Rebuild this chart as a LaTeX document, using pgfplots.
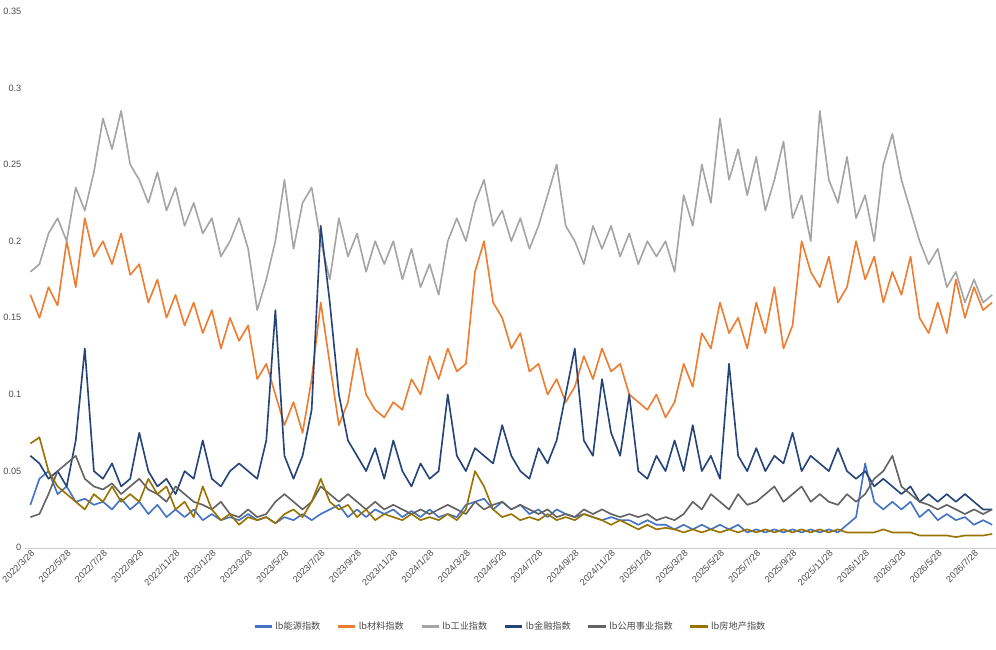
\documentclass[border=0pt]{standalone}
\usepackage{pgfplots}
\pgfplotsset{compat=1.18}
\usepackage{pgfplotstable}
\usepackage{fontspec}
\setmainfont{Liberation Sans}
\newfontfamily\cjk{Noto Sans CJK SC}
\definecolor{cEn}{HTML}{4472C4}
\definecolor{cMa}{HTML}{ED7D31}
\definecolor{cIn}{HTML}{A5A5A5}
\definecolor{cFi}{HTML}{264478}
\definecolor{cUt}{HTML}{636363}
\definecolor{cRe}{HTML}{997300}
\pgfplotstableread{
x en ma in fi ut re
0 .028 .165 .180 .060 .020 .068
0.5 .045 .150 .185 .055 .022 .072
1 .050 .170 .205 .045 .035 .050
1.5 .035 .158 .215 .050 .050 .040
2 .040 .200 .200 .040 .055 .035
2.5 .030 .170 .235 .070 .060 .030
3 .032 .215 .220 .130 .045 .025
3.5 .028 .190 .245 .050 .040 .035
4 .030 .200 .280 .045 .038 .030
4.5 .025 .185 .260 .055 .042 .040
5 .032 .205 .285 .040 .035 .030
5.5 .025 .178 .250 .045 .040 .035
6 .030 .185 .240 .075 .045 .030
6.5 .022 .160 .225 .050 .038 .045
7 .028 .175 .245 .040 .035 .035
7.5 .020 .150 .220 .045 .030 .040
8 .025 .165 .235 .035 .040 .025
8.5 .020 .145 .210 .050 .035 .030
9 .025 .160 .225 .045 .030 .020
9.5 .018 .140 .205 .070 .028 .040
10 .022 .155 .215 .045 .025 .025
10.5 .018 .130 .190 .040 .030 .018
11 .020 .150 .200 .050 .022 .022
11.5 .018 .135 .215 .055 .020 .015
12 .022 .145 .195 .050 .025 .020
12.5 .018 .110 .155 .045 .020 .018
13 .020 .120 .175 .070 .022 .020
13.5 .016 .100 .200 .155 .030 .016
14 .020 .080 .240 .060 .035 .022
14.5 .018 .095 .195 .045 .030 .025
15 .022 .075 .225 .060 .025 .020
15.5 .018 .110 .235 .090 .030 .030
16 .022 .160 .200 .210 .040 .045
16.5 .025 .120 .175 .160 .035 .030
17 .028 .080 .215 .100 .030 .025
17.5 .020 .095 .190 .070 .035 .028
18 .025 .130 .205 .060 .030 .020
18.5 .020 .100 .180 .050 .025 .025
19 .025 .090 .200 .065 .030 .018
19.5 .022 .085 .185 .045 .025 .022
20 .025 .095 .200 .070 .028 .020
20.5 .020 .090 .175 .050 .025 .018
21 .024 .110 .195 .040 .022 .022
21.5 .020 .100 .170 .055 .025 .018
22 .025 .125 .185 .045 .022 .020
22.5 .020 .110 .165 .050 .025 .018
23 .022 .130 .200 .100 .028 .022
23.5 .020 .115 .215 .060 .025 .018
24 .028 .120 .200 .050 .022 .025
24.5 .030 .180 .225 .065 .030 .050
25 .032 .200 .240 .060 .025 .040
25.5 .025 .160 .210 .055 .028 .025
26 .030 .150 .220 .080 .030 .020
26.5 .025 .130 .200 .060 .025 .022
27 .028 .140 .215 .050 .028 .018
27.5 .022 .115 .195 .045 .025 .020
28 .025 .120 .210 .065 .022 .018
28.5 .020 .100 .230 .055 .025 .022
29 .025 .110 .250 .070 .020 .018
29.5 .022 .095 .210 .100 .022 .020
30 .020 .105 .200 .130 .020 .018
30.5 .022 .125 .185 .070 .025 .022
31 .020 .110 .210 .060 .022 .020
31.5 .018 .130 .195 .110 .025 .018
32 .020 .115 .210 .075 .022 .015
32.5 .018 .120 .190 .060 .020 .018
33 .018 .100 .205 .100 .022 .015
33.5 .015 .095 .185 .050 .020 .012
34 .018 .090 .200 .045 .022 .015
34.5 .015 .100 .190 .060 .018 .012
35 .015 .085 .200 .050 .020 .013
35.5 .012 .095 .180 .070 .018 .012
36 .015 .120 .230 .050 .022 .010
36.5 .012 .105 .210 .080 .030 .012
37 .015 .140 .250 .050 .025 .010
37.5 .012 .130 .225 .060 .035 .012
38 .015 .160 .280 .045 .030 .010
38.5 .012 .140 .240 .120 .025 .012
39 .015 .150 .260 .060 .035 .010
39.5 .010 .130 .230 .050 .028 .012
40 .012 .160 .255 .065 .030 .010
40.5 .010 .140 .220 .050 .035 .012
41 .012 .170 .240 .060 .040 .010
41.5 .010 .130 .265 .055 .030 .012
42 .012 .145 .215 .075 .035 .010
42.5 .010 .200 .230 .050 .040 .012
43 .012 .180 .200 .060 .030 .010
43.5 .010 .170 .285 .055 .035 .012
44 .012 .190 .240 .050 .030 .010
44.5 .010 .160 .225 .065 .028 .012
45 .015 .170 .255 .050 .035 .010
45.5 .020 .200 .215 .045 .030 .010
46 .055 .175 .230 .050 .035 .010
46.5 .030 .190 .200 .040 .045 .010
47 .025 .160 .250 .045 .050 .012
47.5 .030 .180 .270 .040 .060 .010
48 .025 .165 .240 .035 .040 .010
48.5 .030 .190 .220 .040 .035 .010
49 .020 .150 .200 .030 .030 .008
49.5 .025 .140 .185 .035 .028 .008
50 .018 .160 .195 .030 .025 .008
50.5 .022 .140 .170 .035 .028 .008
51 .018 .175 .180 .030 .025 .007
51.5 .020 .150 .160 .035 .022 .008
52 .015 .170 .175 .030 .025 .008
52.5 .018 .155 .160 .025 .022 .008
53 .015 .160 .165 .025 .025 .009
}\data
\begin{document}
\begin{tikzpicture}
\begin{axis}[name=ax, scale only axis, width=950pt, height=525pt,
  xmin=-0.3, xmax=53.2, ymin=0, ymax=0.35,
  ytick={0,0.05,...,0.35},
  yticklabels={0,0.05,0.1,0.15,0.2,0.25,0.3,0.35},
  xtick={0,2,...,52},
  xticklabels={2022/3/28,2022/5/28,2022/7/28,2022/9/28,2022/11/28,2023/1/28,2023/3/28,2023/5/28,2023/7/28,2023/9/28,2023/11/28,2024/1/28,2024/3/28,2024/5/28,2024/7/28,2024/9/28,2024/11/28,2025/1/28,2025/3/28,2025/5/28,2025/7/28,2025/9/28,2025/11/28,2026/1/28,2026/3/28,2026/5/28,2026/7/28},
  x tick label style={rotate=45, anchor=north east, font=\fontsize{9}{10}\selectfont, text=black!70, inner sep=1pt},
  y tick label style={font=\fontsize{9}{10}\selectfont, text=black!70},
  axis x line=bottom, axis y line=left,
  y axis line style={draw=none}, x axis line style={-, draw=black!20},
  major tick length=0pt,
  legend style={at={(0.5,-0.13)}, anchor=north, draw=none, font=\cjk\fontsize{9}{10}\selectfont, text=black!70, /tikz/every even column/.append style={column sep=14pt}},
  legend columns=6, legend image post style={line width=2.5pt},
  every axis plot/.append style={line width=1.6pt, line join=round}]
\addplot[cEn] table[x=x,y=en]{\data};
\addlegendentry{lb能源指数}
\addplot[cMa] table[x=x,y=ma]{\data};
\addlegendentry{lb材料指数}
\addplot[cIn] table[x=x,y=in]{\data};
\addlegendentry{lb工业指数}
\addplot[cFi] table[x=x,y=fi]{\data};
\addlegendentry{lb金融指数}
\addplot[cUt] table[x=x,y=ut]{\data};
\addlegendentry{lb公用事业指数}
\addplot[cRe] table[x=x,y=re]{\data};
\addlegendentry{lb房地产指数}
\end{axis}
\path ([yshift=11pt]ax.north east) -- ([yshift=-100pt]ax.south east);
\end{tikzpicture}
\end{document}
